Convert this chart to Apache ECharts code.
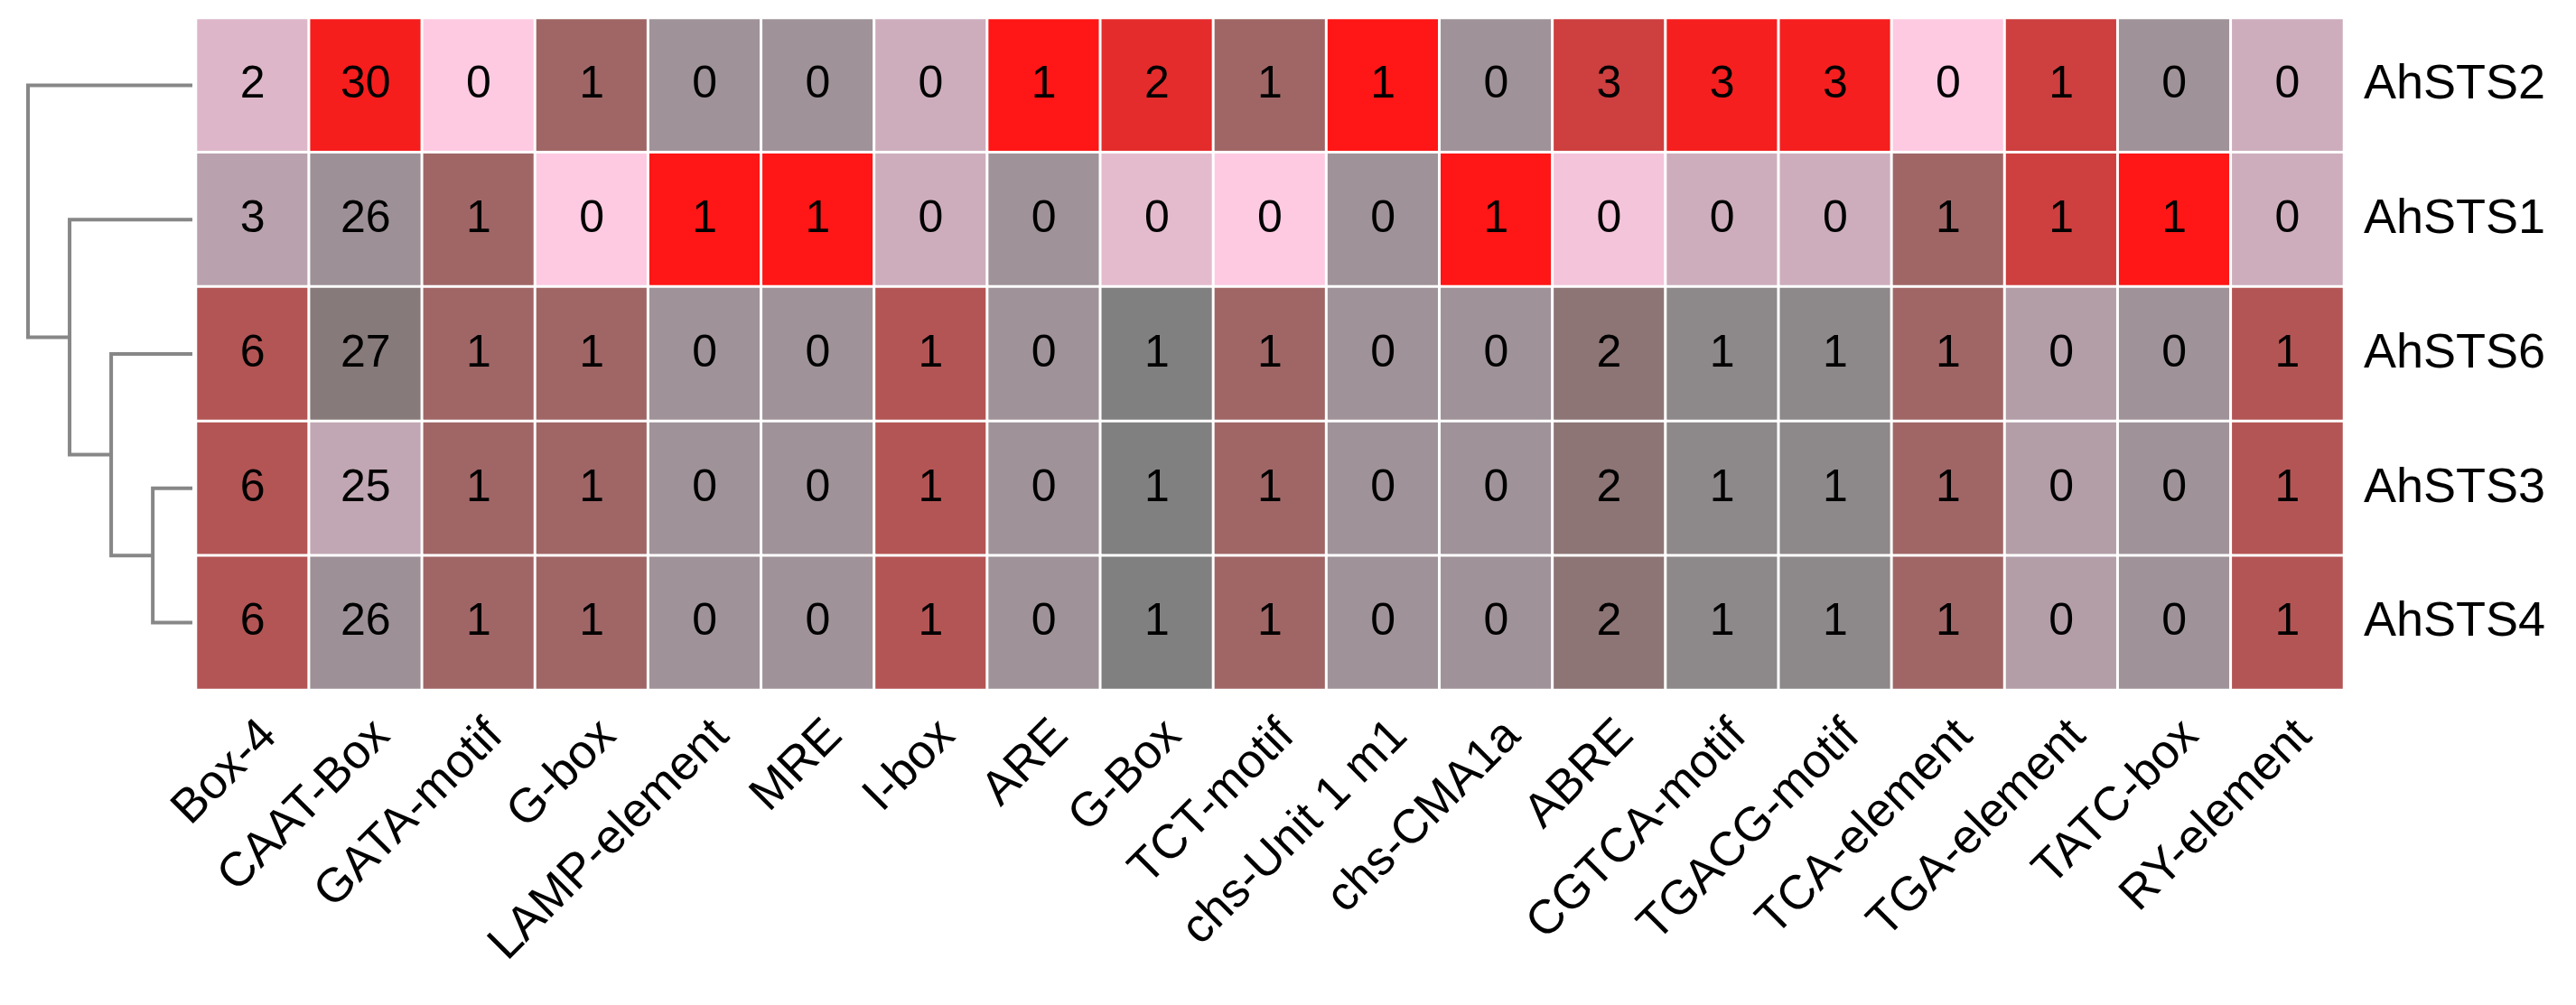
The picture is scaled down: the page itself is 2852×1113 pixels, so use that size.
<!DOCTYPE html>
<html>
<head>
<meta charset="utf-8">
<script src="https://cdn.jsdelivr.net/npm/echarts@6/dist/echarts.min.js"></script>
<style>
html,body{margin:0;padding:0;background:#fff;}
#chart{width:2852px;height:1113px;}
</style>
</head>
<body>
<div id="chart"></div>
<script>
// Column (cis-element) categories
const elements = ['Box-4','CAAT-Box','GATA-motif','G-box','LAMP-element','MRE','I-box','ARE','G-Box','TCT-motif','chs-Unit 1 m1','chs-CMA1a','ABRE','CGTCA-motif','TGACG-motif','TCA-element','TGA-element','TATC-box','RY-element'];
// Row (gene) categories, in dendrogram order
const genes = ['AhSTS2','AhSTS1','AhSTS6','AhSTS3','AhSTS4'];
// Counts per gene
const AhSTS2 = [2,30,0,1,0,0,0,1,2,1,1,0,3,3,3,0,1,0,0];
const AhSTS1 = [3,26,1,0,1,1,0,0,0,0,0,1,0,0,0,1,1,1,0];
const AhSTS6 = [6,27,1,1,0,0,1,0,1,1,0,0,2,1,1,1,0,0,1];
const AhSTS3 = [6,25,1,1,0,0,1,0,1,1,0,0,2,1,1,1,0,0,1];
const AhSTS4 = [6,26,1,1,0,0,1,0,1,1,0,0,2,1,1,1,0,0,1];
const rows = [AhSTS2, AhSTS1, AhSTS6, AhSTS3, AhSTS4];
// Dendrogram merges: [childA, childB, height]; indices < 5 are genes, >= 5 are earlier merges
const merges = [[3,4,1.0],[2,5,2.05],[1,6,3.1],[0,7,4.15]];

// Column-scaled values (z-scores) for the colour scale
const nR = rows.length, nC = elements.length;
const zs = rows.map(() => new Array(nC));
let zMax = 0;
for (let c = 0; c < nC; c++) {
  const col = rows.map(r => r[c]);
  const m = col.reduce((a,b)=>a+b,0)/nR;
  const sd = Math.sqrt(col.reduce((a,b)=>a+(b-m)*(b-m),0)/(nR-1));
  for (let r = 0; r < nR; r++) {
    const z = sd > 0 ? (rows[r][c]-m)/sd : 0;
    zs[r][c] = z;
    zMax = Math.max(zMax, Math.abs(z));
  }
}
const heatData = [];
for (let r = 0; r < nR; r++) for (let c = 0; c < nC; c++) heatData.push([c, r, rows[r][c], zs[r][c]]);

// Dendrogram node positions
const nodeY = genes.map((g,i)=>i+0.5), nodeH = genes.map(()=>0);
const linkData = [];
merges.forEach(([a,b,h]) => {
  linkData.push([h, nodeY[a], nodeY[b], nodeH[a], nodeH[b]]);
  nodeY.push((nodeY[a]+nodeY[b])/2);
  nodeH.push(h);
});

const FONT = "'Liberation Sans', Arial, sans-serif";
const chart = echarts.init(document.getElementById('chart'));
chart.setOption({
  animation: false,
  backgroundColor: '#ffffff',
  grid: [
    {left: 217, right: 257, top: 20, bottom: 349},
    {left: 31, width: 182, top: 20, bottom: 349}
  ],
  xAxis: [
    {type: 'category', data: elements, gridIndex: 0,
     axisLine: {show: false}, axisTick: {show: false}, splitLine: {show: false},
     axisLabel: {rotate: 45, interval: 0, margin: 24, align: 'right', verticalAlign: 'top',
                 fontSize: 53, color: '#000', fontFamily: FONT}},
    {type: 'value', gridIndex: 1, min: 0, max: merges[merges.length-1][2], inverse: true, show: false}
  ],
  yAxis: [
    {type: 'category', data: genes, gridIndex: 0, inverse: true, position: 'right',
     axisLine: {show: false}, axisTick: {show: false}, splitLine: {show: false},
     axisLabel: {margin: 22, fontSize: 54, color: '#000', fontFamily: FONT}},
    {type: 'value', gridIndex: 1, min: 0, max: genes.length, inverse: true, show: false}
  ],
  visualMap: {
    show: false, type: 'continuous', seriesIndex: 0, dimension: 3,
    min: -zMax, max: zMax,
    inRange: {color: ['#fdcae2', '#808080', '#ff1616']}
  },
  series: [
    {
      type: 'heatmap', xAxisIndex: 0, yAxisIndex: 0, data: heatData,
      itemStyle: {borderColor: '#ffffff', borderWidth: 3},
      label: {show: true, fontSize: 50, color: '#000', fontFamily: FONT,
              formatter: p => String(p.data[2])},
      emphasis: {disabled: true}
    },
    {
      type: 'custom', xAxisIndex: 1, yAxisIndex: 1, data: linkData,
      renderItem: function(params, api) {
        const h = api.value(0), y1 = api.value(1), y2 = api.value(2), h1 = api.value(3), h2 = api.value(4);
        const p1 = api.coord([h1, y1]), p2 = api.coord([h, y1]), p3 = api.coord([h, y2]), p4 = api.coord([h2, y2]);
        return {type: 'polyline', shape: {points: [p1, p2, p3, p4]},
                style: {stroke: '#878787', lineWidth: 4, fill: 'none'}};
      }
    }
  ]
});
</script>
</body>
</html>
